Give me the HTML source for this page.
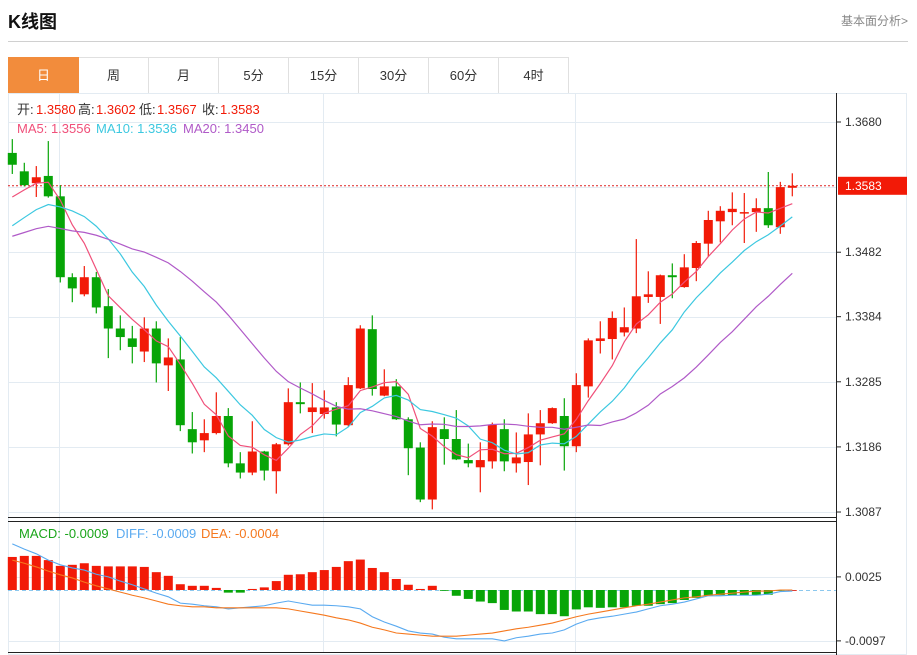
<!DOCTYPE html>
<html><head><meta charset="utf-8">
<style>
body{margin:0;width:917px;height:655px;background:#fff;overflow:hidden;font-family:"Liberation Sans","Noto Sans CJK SC",sans-serif;}
#title{position:absolute;left:8px;top:8px;font-size:18px;font-weight:bold;color:#111;}
#more{position:absolute;right:9px;top:12px;font-size:12px;color:#888;}
#hr{position:absolute;left:8px;top:41px;width:900px;height:1px;background:#d0d0d0;}
#tabs{position:absolute;left:8px;top:57px;height:36px;display:flex;}
.tab{width:69px;height:35px;border:1px solid #e0e0e0;border-left:none;text-align:center;line-height:36px;font-size:13px;color:#333;}
.tab.on{background:#f28c3c;color:#fff;border-color:#f28c3c;}
svg{position:absolute;left:0;top:0;}
</style></head><body>
<div id="title">K线图</div>
<div id="more">基本面分析&gt;</div>
<div id="hr"></div>
<div id="tabs">
<div class="tab on" style="border-left:1px solid #f28c3c">日</div>
<div class="tab">周</div>
<div class="tab">月</div>
<div class="tab">5分</div>
<div class="tab">15分</div>
<div class="tab">30分</div>
<div class="tab">60分</div>
<div class="tab">4时</div>
</div>
<svg id="chart" width="917" height="655"></svg>
<script>
const opens=[1.3633,1.3605,1.3587,1.3598,1.3567,1.3444,1.3418,1.3444,1.3400,1.3366,1.3351,1.3331,1.3366,1.3310,1.3319,1.3213,1.3196,1.3207,1.3233,1.3161,1.3147,1.3179,1.3149,1.3190,1.3254,1.3239,1.3236,1.3246,1.3219,1.3275,1.3365,1.3264,1.3278,1.3228,1.3185,1.3106,1.3213,1.3198,1.3166,1.3155,1.3164,1.3213,1.3161,1.3163,1.3205,1.3222,1.3233,1.3187,1.3278,1.3347,1.3350,1.3360,1.3366,1.3414,1.3414,1.3447,1.3429,1.3458,1.3495,1.3529,1.3543,1.3542,1.3543,1.3549,1.3520,1.3580];
const closes=[1.3615,1.3584,1.3596,1.3567,1.3444,1.3427,1.3444,1.3398,1.3366,1.3353,1.3338,1.3366,1.3313,1.3322,1.3219,1.3193,1.3207,1.3233,1.3161,1.3147,1.3179,1.3150,1.3190,1.3254,1.3251,1.3246,1.3246,1.3220,1.3280,1.3366,1.3274,1.3278,1.3228,1.3184,1.3106,1.3216,1.3198,1.3167,1.3161,1.3166,1.3220,1.3164,1.3170,1.3205,1.3222,1.3245,1.3187,1.3280,1.3348,1.3351,1.3382,1.3368,1.3415,1.3418,1.3447,1.3444,1.3459,1.3496,1.3531,1.3545,1.3548,1.3543,1.3549,1.3523,1.3581,1.3583];
const highs=[1.3654,1.3618,1.3613,1.3651,1.3584,1.3450,1.3461,1.3452,1.3426,1.3386,1.3370,1.3383,1.3377,1.3351,1.3353,1.3239,1.3228,1.3269,1.3245,1.3178,1.3225,1.3180,1.3192,1.3275,1.3284,1.3283,1.3272,1.3254,1.3292,1.3371,1.3386,1.3304,1.3289,1.3231,1.3193,1.3225,1.3231,1.3242,1.3191,1.3193,1.3223,1.3228,1.3208,1.3237,1.3242,1.3246,1.3260,1.3298,1.3351,1.3377,1.3392,1.3398,1.3502,1.3453,1.3448,1.3465,1.3479,1.3499,1.3545,1.3552,1.3573,1.3572,1.3564,1.3604,1.3589,1.3602];
const lows=[1.3601,1.3582,1.3566,1.3565,1.3436,1.3406,1.3415,1.3389,1.3321,1.3333,1.3313,1.3315,1.3284,1.3271,1.3210,1.3176,1.3178,1.3205,1.3155,1.3138,1.3143,1.3135,1.3115,1.3188,1.3237,1.3207,1.3229,1.3202,1.3217,1.3274,1.3264,1.3263,1.3227,1.3143,1.3102,1.3091,1.3159,1.3166,1.3155,1.3117,1.3153,1.3149,1.3147,1.3128,1.3158,1.3221,1.3150,1.3178,1.3261,1.3328,1.3319,1.3354,1.3359,1.3405,1.3373,1.3412,1.3428,1.3438,1.3475,1.3497,1.3523,1.3496,1.3513,1.3519,1.3510,1.3567];
const priorCloses=[1.3470,1.3480,1.3495,1.3510,1.3500,1.3490,1.3485,1.3490,1.3495,1.3488,1.3460,1.3475,1.3490,1.3480,1.3488,1.3530,1.3545,1.3560,1.3580];
const macdHist=[0.0063,0.0065,0.0065,0.0057,0.0046,0.0048,0.0051,0.0046,0.0045,0.0045,0.0045,0.0044,0.0034,0.0027,0.0011,0.0008,0.0008,0.0004,-0.0005,-0.0005,0.0002,0.0005,0.0017,0.0029,0.0030,0.0034,0.0038,0.0044,0.0055,0.0058,0.0042,0.0034,0.0021,0.0010,0.0002,0.0008,-0.0001,-0.0011,-0.0017,-0.0022,-0.0025,-0.0038,-0.0041,-0.0041,-0.0046,-0.0046,-0.0050,-0.0037,-0.0033,-0.0034,-0.0033,-0.0033,-0.0030,-0.0030,-0.0027,-0.0025,-0.0019,-0.0015,-0.0011,-0.0010,-0.0010,-0.0010,-0.0010,-0.0009,-0.0001,0];
const diffVals=[0.0088,0.0078,0.0069,0.0057,0.0048,0.0042,0.0038,0.0030,0.0025,0.0017,0.0010,0.0002,-0.0006,-0.0013,-0.0025,-0.0027,-0.0030,-0.0032,-0.0036,-0.0034,-0.0032,-0.0030,-0.0025,-0.0021,-0.0025,-0.0029,-0.0029,-0.0030,-0.0032,-0.0036,-0.0051,-0.0061,-0.0069,-0.0078,-0.0082,-0.0084,-0.0090,-0.0093,-0.0093,-0.0093,-0.0093,-0.0097,-0.0091,-0.0088,-0.0084,-0.0082,-0.0076,-0.0065,-0.0057,-0.0053,-0.0050,-0.0046,-0.0042,-0.0036,-0.0030,-0.0027,-0.0023,-0.0017,-0.0011,-0.0011,-0.0010,-0.0010,-0.0010,-0.0008,-0.0003,-0.0002];
const deaVals=[0.0057,0.0051,0.0044,0.0036,0.0029,0.0023,0.0015,0.0008,0.0002,-0.0004,-0.0010,-0.0015,-0.0021,-0.0027,-0.0030,-0.0032,-0.0032,-0.0034,-0.0034,-0.0034,-0.0034,-0.0034,-0.0034,-0.0036,-0.0040,-0.0044,-0.0048,-0.0053,-0.0057,-0.0063,-0.0071,-0.0076,-0.0082,-0.0084,-0.0086,-0.0088,-0.0088,-0.0088,-0.0086,-0.0084,-0.0082,-0.0078,-0.0074,-0.0071,-0.0067,-0.0063,-0.0057,-0.0051,-0.0046,-0.0042,-0.0038,-0.0034,-0.0030,-0.0027,-0.0023,-0.0019,-0.0015,-0.0013,-0.0010,-0.0008,-0.0006,-0.0004,-0.0002,-0.0002,0,0];
const priceTicks=[1.3680,1.3482,1.3384,1.3285,1.3186,1.3087];
const macdTicks=[0.0025,-0.0097];
const lastPrice=1.3583;

const NS='http://www.w3.org/2000/svg';
const svg=document.getElementById('chart');
function mk(tag,attrs,parent){const e=document.createElementNS(NS,tag);for(const k in attrs)e.setAttribute(k,attrs[k]);(parent||svg).appendChild(e);return e;}
const X=i=>12.3+12*i;
const Y=p=>122+(1.3680-p)*6577;
const M=v=>590-v*5246;
const RED='#f21a07',GREEN='#07a507';

// frame & grid
const grid=mk('g',{});


mk('rect',{x:8.5,y:93.5,width:898,height:561,fill:'none',stroke:'#e3ebf2'},grid);
[59,323,575].forEach(x=>mk('line',{x1:x+.5,y1:93,x2:x+.5,y2:652,stroke:'#e3ebf2'},grid));
[122,187,252,317,382,447,512].forEach(y=>mk('line',{x1:8,y1:y+.5,x2:836,y2:y+.5,stroke:'#e3ebf2'},grid));
[577,641].forEach(y=>mk('line',{x1:8,y1:y+.5,x2:836,y2:y+.5,stroke:'#e3ebf2'},grid));
mk('line',{x1:8,y1:517.5,x2:836,y2:517.5,stroke:'#222'},grid);
mk('line',{x1:8,y1:521.5,x2:836,y2:521.5,stroke:'#222'},grid);
mk('line',{x1:8,y1:652.5,x2:836,y2:652.5,stroke:'#222'},grid);
mk('line',{x1:836.5,y1:93,x2:836.5,y2:655,stroke:'#222'},grid);

// price axis
priceTicks.forEach(p=>{const y=Y(p);
 mk('line',{x1:836,y1:y,x2:841,y2:y,stroke:'#222'});
 const t=mk('text',{x:845,y:y+4,'font-size':12,fill:'#333'});t.textContent=p.toFixed(4);
 
 
});
macdTicks.forEach(v=>{const y=M(v);
 mk('line',{x1:836,y1:y,x2:841,y2:y,stroke:'#222'});
 const t=mk('text',{x:845,y:y+4,'font-size':12,fill:'#333'});t.textContent=v.toFixed(4);
 
 
});

// last price line
const lp=mk('line',{x1:8,y1:Y(lastPrice),x2:836,y2:Y(lastPrice),stroke:'#d22','stroke-dasharray':'2,2'});


const lpb=mk('rect',{x:838,y:Y(lastPrice)-9,width:69,height:18,fill:'#f21a07'});


const lpt=mk('text',{x:845,y:Y(lastPrice)+4,'font-size':12,fill:'#fff'});lpt.textContent=lastPrice.toFixed(4);

// candles
opens.forEach((o,i)=>{
 const c=closes[i],up=c>=o,col=up?RED:GREEN,x=X(i);
 const g=mk('g',{});
 
 
 mk('line',{x1:x,y1:Y(highs[i]),x2:x,y2:Y(lows[i]),stroke:col,'stroke-width':1.2},g);
 const t=Y(Math.max(o,c)),b=Y(Math.min(o,c));
 mk('rect',{x:x-4.5,y:t,width:9,height:Math.max(b-t,1.5),fill:col},g);
});

// moving averages
const all=priorCloses.concat(closes);
function ma(n){return closes.map((_,i)=>{const e=i+priorCloses.length+1;const s=all.slice(Math.max(0,e-n),e);return s.reduce((a,b)=>a+b,0)/s.length;});}
[[5,'#f0507a','ma5-line'],[10,'#3cc8e0','ma10-line'],[20,'#b05ac8','ma20-line']].forEach(([n,col,name])=>{
 const v=ma(n);const pl=mk('polyline',{points:v.map((p,i)=>X(i)+','+Y(p)).join(' '),fill:'none',stroke:col,'stroke-width':1.2});
 
 
});

// MACD
const z=mk('line',{x1:8,y1:590.5,x2:836,y2:590.5,stroke:'#8cc8ee','stroke-dasharray':'4,3'});


macdHist.forEach((v,i)=>{
 const y0=M(0),y1=M(v);
 const r=mk('rect',{x:X(i)-4.5,y:Math.min(y0,y1),width:9,height:Math.max(Math.abs(y1-y0),0.8),fill:v>=0?RED:GREEN});
 
 
});
const dl=mk('polyline',{points:diffVals.map((v,i)=>X(i)+','+M(v)).join(' '),fill:'none',stroke:'#5aaaf0','stroke-width':1.1});


const el=mk('polyline',{points:deaVals.map((v,i)=>X(i)+','+M(v)).join(' '),fill:'none',stroke:'#f5781e','stroke-width':1.1});



// legends
function txt(x,y,s,col,name){const t=mk('text',{x:x,y:y,'font-size':13,fill:col});t.textContent=s;
 
 return t;}
txt(17,114,'开:','#333','open-label');txt(36,114,'1.3580','#f21a07','open-value');
txt(78,114,'高:','#333','high-label');txt(96,114,'1.3602','#f21a07','high-value');
txt(139,114,'低:','#333','low-label');txt(157,114,'1.3567','#f21a07','low-value');
txt(202,114,'收:','#333','close-label');txt(220,114,'1.3583','#f21a07','close-value');
txt(17,133,'MA5: 1.3556','#f0507a','ma5-legend');
txt(96,133,'MA10: 1.3536','#3cc8e0','ma10-legend');
txt(183,133,'MA20: 1.3450','#b05ac8','ma20-legend');
txt(19,538,'MACD: -0.0009','#1aa51a','macd-legend');
txt(116,538,'DIFF: -0.0009','#5aaaf0','diff-legend');
txt(201,538,'DEA: -0.0004','#f5781e','dea-legend');
</script>
</body></html>
